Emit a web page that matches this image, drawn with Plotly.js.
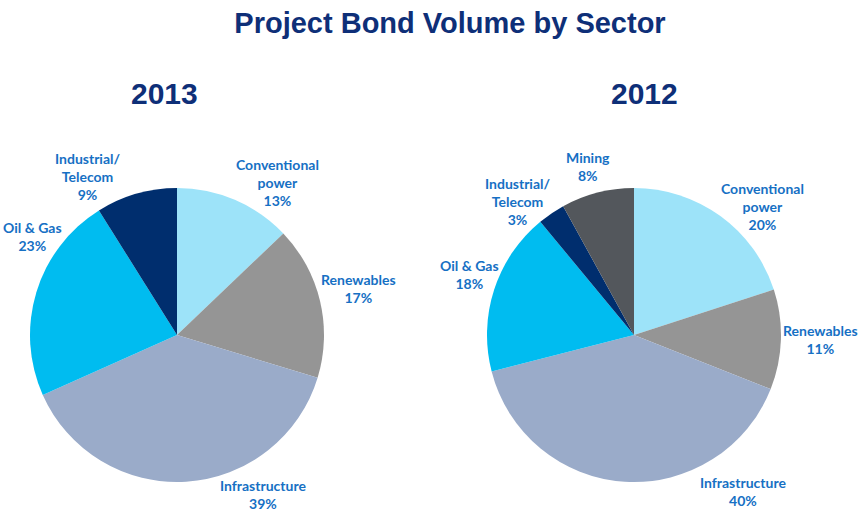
<!DOCTYPE html>
<html>
<head>
<meta charset="utf-8">
<script src="https://cdn.plot.ly/plotly-3.0.1.min.js"></script>
<style>html,body{margin:0;padding:0;background:#fff;}#chart{width:865px;height:513px;}</style>
</head>
<body>
<div id="chart"></div>
<script>
// Data
const sectors2013 = ["Conventional power", "Renewables", "Infrastructure", "Oil & Gas", "Industrial/ Telecom"];
const values2013 = [13, 17, 39, 23, 9];
const labels2013 = ["Conventional<br>power<br>13%", "Renewables<br>17%", "Infrastructure<br>39%", "Oil & Gas<br>23%", "Industrial/<br>Telecom<br>9%"];

const sectors2012 = ["Conventional power", "Renewables", "Infrastructure", "Oil & Gas", "Industrial/ Telecom", "Mining"];
const values2012 = [20, 11, 40, 18, 3, 8];
const labels2012 = ["Conventional<br>power<br>20%", "Renewables<br>11%", "Infrastructure<br>40%", "Oil & Gas<br>18%", "Industrial/<br>Telecom<br>3%", "Mining<br>8%"];

const colors2013 = ["#9de3f9", "#959595", "#9aabc9", "#00bcf0", "#002e6e"];
const colors2012 = ["#9de3f9", "#959595", "#9aabc9", "#00bcf0", "#002e6e", "#53575c"];

const W = 865, H = 513;
// label centre positions (pixels) - layout only
const pos2013 = [[277, 182], [358, 288], [263, 494], [32, 236], [88, 176]];
const pos2012 = [[762, 207], [820, 339], [743, 491], [470, 274], [518, 201], [588, 166]];

function dom(cx, cy, r) {
  return {x: [(cx - r) / W, (cx + r) / W], y: [1 - (cy + r) / H, 1 - (cy - r) / H]};
}

const pieBase = {
  type: "pie", sort: false, direction: "clockwise", rotation: 0,
  textinfo: "none", hoverinfo: "label+percent", showlegend: false
};

const data = [
  Object.assign({}, pieBase, {labels: sectors2013, values: values2013,
    marker: {colors: colors2013, line: {width: 0}}, domain: dom(177, 335, 147)}),
  Object.assign({}, pieBase, {labels: sectors2012, values: values2012,
    marker: {colors: colors2012, line: {width: 0}}, domain: dom(634, 335, 147)})
];

const labelFont = {family: "Lato, 'Open Sans', sans-serif", size: 14, color: "#1670c4", weight: "bold"};
const ann = [];
function addLabels(texts, pos) {
  texts.forEach((t, i) => {
    ann.push({text: "<b>" + t + "</b>", x: pos[i][0] / W, y: 1 - pos[i][1] / H, xref: "paper", yref: "paper",
      showarrow: false, xanchor: "center", yanchor: "middle", align: "center", font: labelFont});
  });
}
addLabels(labels2013, pos2013);
addLabels(labels2012, pos2012);

const subFont = {family: "'Liberation Sans', Arial, sans-serif", size: 30, color: "#0e2f78"};
ann.push({text: "<b>2013</b>", x: 164 / W, y: 1 - 93 / H, xref: "paper", yref: "paper", showarrow: false, xanchor: "center", yanchor: "middle", font: subFont});
ann.push({text: "<b>2012</b>", x: 644 / W, y: 1 - 93 / H, xref: "paper", yref: "paper", showarrow: false, xanchor: "center", yanchor: "middle", font: subFont});

const layout = {
  width: W, height: H,
  margin: {l: 0, r: 0, t: 0, b: 0},
  paper_bgcolor: "#ffffff",
  title: {text: "<b>Project Bond Volume by Sector</b>", x: 450 / W, xanchor: "center", y: 1 - 23 / H, yanchor: "middle",
    font: {family: "'Liberation Sans', Arial, sans-serif", size: 29, color: "#0e2f78"}},
  annotations: ann
};

Plotly.newPlot("chart", data, layout, {displayModeBar: false, staticPlot: true});
</script>
</body>
</html>
